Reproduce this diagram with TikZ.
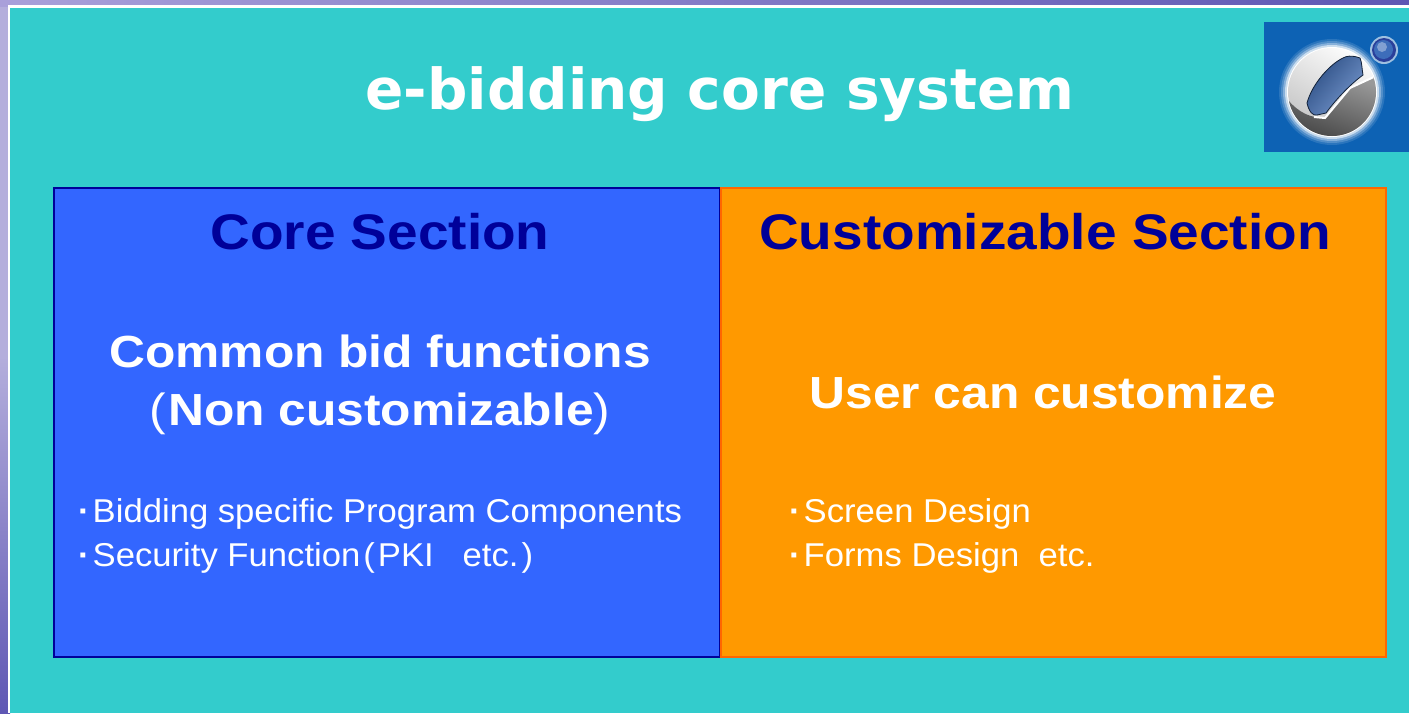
\documentclass[tikz,border=0pt]{standalone}
\usepackage{fontspec}
\setmainfont{Liberation Sans}
\newfontfamily\titlefont{DejaVu Sans}
\usetikzlibrary{positioning}
\definecolor{tealbg}{HTML}{33CCCC}
\definecolor{coreblue}{HTML}{3366FF}
\definecolor{coreline}{HTML}{000099}
\definecolor{custorange}{HTML}{FF9900}
\definecolor{custline}{HTML}{FF6600}
\definecolor{logoblue}{HTML}{0D62B4}
\definecolor{stripdark}{HTML}{5F57B4}
\definecolor{stripmid}{HTML}{B4AEDC}
\definecolor{striplight}{HTML}{D2D0EA}
\definecolor{striptop}{HTML}{A9A0DA}
\definecolor{windowblue}{HTML}{3D6DBA}
\definecolor{balldark}{HTML}{2A3F9A}
\pgfdeclareverticalshading{stripv}{100bp}{color(0bp)=(stripdark);color(25bp)=(stripdark);
  color(50bp)=(stripmid);color(75bp)=(stripmid);color(81bp)=(striplight);color(90bp)=(stripmid);color(100bp)=(striptop)}

\begin{document}
\begin{tikzpicture}[x=1pt,y=-1pt,
        section/.style={draw,line width=2pt},
        heading/.style={text=coreline,font=\fontsize{50}{56}\selectfont\bfseries\addfontfeature{FakeStretch=1.10},inner sep=0pt},
        lead/.style={text=white,font=\fontsize{45}{58}\selectfont\bfseries\addfontfeature{FakeStretch=1.105},align=center,inner sep=0pt},
        items/.style={text=white,font=\fontsize{33}{44}\selectfont\addfontfeature{FakeStretch=1.05},align=left,inner sep=0pt,anchor=west}]
      \useasboundingbox (0,0) rectangle (1409,713);
      % backdrop
      \shade[shading=stripv] (0,0) rectangle (10,713);
      \shade[left color=striptop,right color=stripdark] (0,0) rectangle (1409,6);
      \fill[white] (8,5) rectangle (1409,713);
      \fill[tealbg] (10,7.5) rectangle (1409,713);
      \node[text=white,font=\titlefont\fontsize{56.5}{60}\selectfont\bfseries,inner sep=0pt] (title) at (720,94) {e-bidding core system};
      % logo
      \fill[logoblue] (1264,22) rectangle (1409,152);
      \fill[white!12!logoblue] (1332,92) circle (53);
      \fill[white!28!logoblue] (1332,92) circle (51);
      \fill[white!50!logoblue] (1332,92) circle (49);
      \fill[white!78!logoblue] (1332,92) circle (47);
      \fill[white] (1332,92) circle (45);
      \begin{scope}
        \clip (1332,92) circle (44);
        \shade[top color=white,bottom color=gray!50,shading angle=-30] (1282,42) rectangle (1382,142);
        \shade[top color=gray!80,bottom color=black!75,shading angle=-20] (1376,76) -- (1350,88) -- (1325,118)
          .. controls (1312,118) and (1300,114) .. (1288,100) -- (1288,145) -- (1382,145) -- cycle;
        \draw[white,line width=2pt] (1376,76) -- (1350,88) -- (1325,118) -- (1314,117);
      \end{scope}
      \shade[left color=black!30!windowblue,right color=windowblue!70!white,shading angle=50,draw=black!70!windowblue,line width=.8pt]
        (1307,103) .. controls (1309,112) and (1313,116) .. (1317,115)
        -- (1326,113) .. controls (1334,102) and (1348,86) .. (1363,75)
        .. controls (1362,70) and (1362,62) .. (1360,58)
        .. controls (1352,55) and (1346,56) .. (1343,58)
        .. controls (1330,64) and (1312,84) .. (1307,103) -- cycle;
      \fill[white!60!logoblue] (1384,50) circle (14);
      \fill[balldark] (1384,50) circle (12);
      \fill[windowblue] (1383.5,49.5) circle (9.5);
      \fill[windowblue!65!white] (1382,47) circle (5);
      % the two sections
      \draw[section,fill=coreblue,draw=coreline] (54,188) rectangle (720,657);
      \draw[section,fill=custorange,draw=custline] (721,188) rectangle (1386,657);
      \node[heading] (corehead) at (380,232) {Core Section};
      \node[heading] (custhead) at (1045,232) {Customizable Section};
      \node[lead] (corelead) at (380,385) {Common bid functions\\{\mdseries(}\kern2pt Non customizable{\mdseries)}};
      \node[lead] (custlead) at (1043,392) {User can customize};
      \node[items] (coreitems) at (78,536) {{\bfseries·}\kern3pt Bidding specific Program Components\\{\bfseries·}\kern3pt Security Function\kern3pt(\kern3pt PKI\ \ \ etc.\kern3pt)};
      \node[items] (custitems) at (789,536) {{\bfseries·}\kern3pt Screen Design\\{\bfseries·}\kern3pt Forms Design\ \ etc.};
    \end{tikzpicture}
\end{document}
